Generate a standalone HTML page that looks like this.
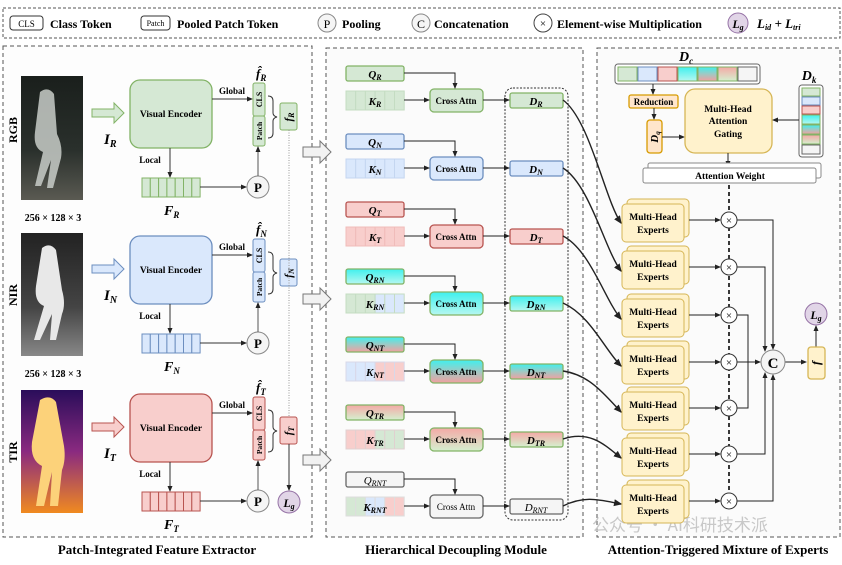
<!DOCTYPE html>
<html><head><meta charset="utf-8"><style>
body{margin:0;background:#fff}
svg{display:block;font-family:"Liberation Serif","Noto Serif CJK SC",serif;font-weight:bold}
.m{font-style:italic}
</style></head><body>
<svg width="842" height="565" viewBox="0 0 842 565" xmlns="http://www.w3.org/2000/svg">
<defs>
<marker id="a" markerWidth="6" markerHeight="6" refX="5" refY="3" orient="auto"><path d="M0,0.5L6,3L0,5.5z" fill="#222"/></marker>
<linearGradient id="cy" x1="0" y1="0" x2="0" y2="1"><stop offset="0" stop-color="#3ff0ee"/><stop offset="1" stop-color="#b6f7f0"/></linearGradient>
<linearGradient id="nt" x1="0" y1="0" x2="0" y2="1"><stop offset="0" stop-color="#3ff0ee"/><stop offset="0.5" stop-color="#9fc9c4"/><stop offset="1" stop-color="#f2a0a0"/></linearGradient>
<linearGradient id="tr" x1="0" y1="0" x2="0" y2="1"><stop offset="0" stop-color="#f4a9a6"/><stop offset="1" stop-color="#d5f0cf"/></linearGradient>
<linearGradient id="rgb" x1="0" y1="0" x2="0" y2="1"><stop offset="0" stop-color="#1a1f1c"/><stop offset="0.6" stop-color="#2a302c"/><stop offset="1" stop-color="#5a5a52"/></linearGradient>
<linearGradient id="nir" x1="0" y1="0" x2="0" y2="1"><stop offset="0" stop-color="#222"/><stop offset="0.6" stop-color="#444"/><stop offset="1" stop-color="#888"/></linearGradient>
<linearGradient id="tir" x1="0" y1="0" x2="0" y2="1"><stop offset="0" stop-color="#2a0d5a"/><stop offset="0.5" stop-color="#8a2a80"/><stop offset="1" stop-color="#f08a20"/></linearGradient>
</defs>
<!-- legend -->
<rect x="3" y="8" width="837" height="30" fill="#fff" stroke="#555" stroke-dasharray="3,2"/>
<rect x="10" y="16" width="33" height="14" rx="3" fill="#fff" stroke="#333"/><text x="26.5" y="27" font-size="9" text-anchor="middle" font-weight="normal">CLS</text>
<text x="50" y="28" font-size="12">Class Token</text>
<rect x="141" y="16" width="29" height="14" rx="3" fill="#fff" stroke="#333"/><text x="155.5" y="26" font-size="8" text-anchor="middle" font-weight="normal">Patch</text>
<text x="177" y="28" font-size="12">Pooled Patch Token</text>
<circle cx="327" cy="23" r="9" fill="#f5f5f5" stroke="#888"/><text x="327" y="28" font-size="12" text-anchor="middle" font-weight="normal">P</text>
<text x="342" y="28" font-size="12">Pooling</text>
<circle cx="421" cy="23" r="9" fill="#f5f5f5" stroke="#888"/><text x="421" y="28" font-size="12" text-anchor="middle" font-weight="normal">C</text>
<text x="434" y="28" font-size="12">Concatenation</text>
<circle cx="543" cy="23" r="9" fill="#fff" stroke="#444"/><text x="543" y="27" font-size="11" text-anchor="middle" font-weight="normal">×</text>
<text x="557" y="28" font-size="12">Element-wise Multiplication</text>
<circle cx="738" cy="23" r="10" fill="#e1d5e7" stroke="#9673a6"/><text x="738" y="28" font-size="12" text-anchor="middle" class="m">L<tspan font-size="8" dy="2">g</tspan></text>
<text x="757" y="28" font-size="13" class="m">L<tspan font-size="8" dy="2">id</tspan><tspan dy="-2"> + L</tspan><tspan font-size="8" dy="2">tri</tspan></text>

<!-- panels -->
<rect x="3" y="46" width="309" height="491" fill="#fdfdfd" stroke="#555" stroke-dasharray="4,3"/>
<rect x="326" y="48" width="257" height="489" fill="#fbfbfb" stroke="#555" stroke-dasharray="4,3"/>
<rect x="597" y="48" width="243" height="489" fill="#fbfbfb" stroke="#555" stroke-dasharray="4,3"/>
<text x="157" y="554" font-size="13" text-anchor="middle">Patch-Integrated Feature Extractor</text>
<text x="456" y="554" font-size="13" text-anchor="middle">Hierarchical Decoupling Module</text>
<text x="718" y="554" font-size="13" text-anchor="middle">Attention-Triggered Mixture of Experts</text>
<text x="592" y="531" font-size="17" fill="#c8c8c8" font-family="Noto Sans CJK SC,sans-serif" font-weight="normal">公众号 · AI科研技术派</text>

<!-- photos -->
<rect x="21" y="76" width="62" height="124" fill="url(#rgb)"/>
<path d="M40,92 q8,-6 14,2 l3,40 q6,12 4,24 l-8,30 h-6 l4,-28 l-10,26 h-6 l8,-34 q-10,-4 -8,-20z" fill="#c8ccc8" opacity="0.85"/>
<rect x="21" y="233" width="62" height="123" fill="url(#nir)"/>
<path d="M42,248 q8,-6 14,2 l6,40 q4,14 0,24 l-6,26 h-6 l2,-26 l-12,26 h-6 l10,-34 q-10,-4 -8,-20z" fill="#e8e8e8"/>
<rect x="21" y="390" width="62" height="123" fill="url(#tir)"/>
<path d="M40,400 q10,-6 16,2 l8,44 q2,14 -2,24 l-4,36 h-8 l2,-34 l-8,34 h-8 l6,-40 q-12,-6 -10,-24z" fill="#fcd27a"/>
<text transform="translate(17,130) rotate(-90)" font-size="12" text-anchor="middle">RGB</text>
<text transform="translate(17,295) rotate(-90)" font-size="12" text-anchor="middle">NIR</text>
<text transform="translate(17,452) rotate(-90)" font-size="12" text-anchor="middle">TIR</text>
<text x="53" y="221" font-size="10" text-anchor="middle">256 × 128 × 3</text>
<text x="53" y="377" font-size="10" text-anchor="middle">256 × 128 × 3</text>

<!-- row template R -->
<g id="rowR">
<polygon points="92,109 114,109 114,103 124,113 114,123 114,117 92,117" fill="#d5e8d4" stroke="#82b366"/>
<text x="104" y="144" font-size="15" class="m">I<tspan font-size="10" dy="3">R</tspan></text>
<rect x="130" y="80" width="82" height="68" rx="10" fill="#d5e8d4" stroke="#82b366" stroke-width="1.3"/>
<text x="171" y="117" font-size="9.5" text-anchor="middle">Visual Encoder</text>
<line x1="212" y1="99" x2="252" y2="99" stroke="#333" marker-end="url(#a)"/>
<text x="232" y="94" font-size="9" text-anchor="middle">Global</text>
<rect x="253" y="83" width="12" height="33" rx="2" fill="#d5e8d4" stroke="#82b366"/>
<rect x="253" y="116" width="12" height="30" rx="2" fill="#d5e8d4" stroke="#82b366"/>
<text transform="translate(262,99.5) rotate(-90)" font-size="8" text-anchor="middle">CLS</text>
<text transform="translate(262,131) rotate(-90)" font-size="7.5" text-anchor="middle">Patch</text>
<text x="256" y="78" font-size="13" class="m">f̂<tspan font-size="9" dy="3">R</tspan></text>
<path d="M268,96 q5,0 5,5 v12 q0,3 4,4 q-4,1 -4,4 v12 q0,5 -5,5" fill="none" stroke="#333"/>
<rect x="280" y="103" width="17" height="27" rx="2" fill="#d5e8d4" stroke="#82b366"/>
<text transform="translate(292,117) rotate(-90)" font-size="11" text-anchor="middle" class="m">f<tspan font-size="8" dy="2">R</tspan></text>
<line x1="170" y1="148" x2="170" y2="177" stroke="#333" marker-end="url(#a)"/>
<text x="150" y="163" font-size="9" text-anchor="middle">Local</text>
<g fill="#d5e8d4" stroke="#82b366"><rect x="142" y="178" width="8.3" height="19"/><rect x="150.3" y="178" width="8.3" height="19"/><rect x="158.6" y="178" width="8.3" height="19"/><rect x="166.9" y="178" width="8.3" height="19"/><rect x="175.2" y="178" width="8.3" height="19"/><rect x="183.5" y="178" width="8.3" height="19"/><rect x="191.8" y="178" width="8.3" height="19"/></g>
<text x="164" y="215" font-size="14" class="m">F<tspan font-size="9" dy="3">R</tspan></text>
<line x1="200" y1="187" x2="246" y2="187" stroke="#333" marker-end="url(#a)"/>
<circle cx="258" cy="187" r="11" fill="#f5f5f5" stroke="#888"/><text x="258" y="192" font-size="13" text-anchor="middle">P</text>
<line x1="258" y1="176" x2="258" y2="147" stroke="#555" marker-end="url(#a)"/>
</g>
<!-- row N -->
<g transform="translate(0,156)">
<polygon points="92,109 114,109 114,103 124,113 114,123 114,117 92,117" fill="#dae8fc" stroke="#6c8ebf"/>
<text x="104" y="144" font-size="15" class="m">I<tspan font-size="10" dy="3">N</tspan></text>
<rect x="130" y="80" width="82" height="68" rx="10" fill="#dae8fc" stroke="#6c8ebf" stroke-width="1.3"/>
<text x="171" y="117" font-size="9.5" text-anchor="middle">Visual Encoder</text>
<line x1="212" y1="99" x2="252" y2="99" stroke="#333" marker-end="url(#a)"/>
<text x="232" y="94" font-size="9" text-anchor="middle">Global</text>
<rect x="253" y="83" width="12" height="33" rx="2" fill="#dae8fc" stroke="#6c8ebf"/>
<rect x="253" y="116" width="12" height="30" rx="2" fill="#dae8fc" stroke="#6c8ebf"/>
<text transform="translate(262,99.5) rotate(-90)" font-size="8" text-anchor="middle">CLS</text>
<text transform="translate(262,131) rotate(-90)" font-size="7.5" text-anchor="middle">Patch</text>
<text x="256" y="78" font-size="13" class="m">f̂<tspan font-size="9" dy="3">N</tspan></text>
<path d="M268,96 q5,0 5,5 v12 q0,3 4,4 q-4,1 -4,4 v12 q0,5 -5,5" fill="none" stroke="#333"/>
<rect x="280" y="103" width="17" height="27" rx="2" fill="#dae8fc" stroke="#6c8ebf"/>
<text transform="translate(292,117) rotate(-90)" font-size="11" text-anchor="middle" class="m">f<tspan font-size="8" dy="2">N</tspan></text>
<line x1="170" y1="148" x2="170" y2="177" stroke="#333" marker-end="url(#a)"/>
<text x="150" y="163" font-size="9" text-anchor="middle">Local</text>
<g fill="#dae8fc" stroke="#6c8ebf"><rect x="142" y="178" width="8.3" height="19"/><rect x="150.3" y="178" width="8.3" height="19"/><rect x="158.6" y="178" width="8.3" height="19"/><rect x="166.9" y="178" width="8.3" height="19"/><rect x="175.2" y="178" width="8.3" height="19"/><rect x="183.5" y="178" width="8.3" height="19"/><rect x="191.8" y="178" width="8.3" height="19"/></g>
<text x="164" y="215" font-size="14" class="m">F<tspan font-size="9" dy="3">N</tspan></text>
<line x1="200" y1="187" x2="246" y2="187" stroke="#333" marker-end="url(#a)"/>
<circle cx="258" cy="187" r="11" fill="#f5f5f5" stroke="#888"/><text x="258" y="192" font-size="13" text-anchor="middle">P</text>
<line x1="258" y1="176" x2="258" y2="147" stroke="#555" marker-end="url(#a)"/>
</g>
<!-- row T -->
<g transform="translate(0,314)">
<polygon points="92,109 114,109 114,103 124,113 114,123 114,117 92,117" fill="#f8cecc" stroke="#b85450"/>
<text x="104" y="144" font-size="15" class="m">I<tspan font-size="10" dy="3">T</tspan></text>
<rect x="130" y="80" width="82" height="68" rx="10" fill="#f8cecc" stroke="#b85450" stroke-width="1.3"/>
<text x="171" y="117" font-size="9.5" text-anchor="middle">Visual Encoder</text>
<line x1="212" y1="99" x2="252" y2="99" stroke="#333" marker-end="url(#a)"/>
<text x="232" y="94" font-size="9" text-anchor="middle">Global</text>
<rect x="253" y="83" width="12" height="33" rx="2" fill="#f8cecc" stroke="#b85450"/>
<rect x="253" y="116" width="12" height="30" rx="2" fill="#f8cecc" stroke="#b85450"/>
<text transform="translate(262,99.5) rotate(-90)" font-size="8" text-anchor="middle">CLS</text>
<text transform="translate(262,131) rotate(-90)" font-size="7.5" text-anchor="middle">Patch</text>
<text x="256" y="78" font-size="13" class="m">f̂<tspan font-size="9" dy="3">T</tspan></text>
<path d="M268,96 q5,0 5,5 v12 q0,3 4,4 q-4,1 -4,4 v12 q0,5 -5,5" fill="none" stroke="#333"/>
<rect x="280" y="103" width="17" height="27" rx="2" fill="#f8cecc" stroke="#b85450"/>
<text transform="translate(292,117) rotate(-90)" font-size="11" text-anchor="middle" class="m">f<tspan font-size="8" dy="2">T</tspan></text>
<line x1="170" y1="148" x2="170" y2="177" stroke="#333" marker-end="url(#a)"/>
<text x="150" y="163" font-size="9" text-anchor="middle">Local</text>
<g fill="#f8cecc" stroke="#b85450"><rect x="142" y="178" width="8.3" height="19"/><rect x="150.3" y="178" width="8.3" height="19"/><rect x="158.6" y="178" width="8.3" height="19"/><rect x="166.9" y="178" width="8.3" height="19"/><rect x="175.2" y="178" width="8.3" height="19"/><rect x="183.5" y="178" width="8.3" height="19"/><rect x="191.8" y="178" width="8.3" height="19"/></g>
<text x="164" y="215" font-size="14" class="m">F<tspan font-size="9" dy="3">T</tspan></text>
<line x1="200" y1="187" x2="246" y2="187" stroke="#333" marker-end="url(#a)"/>
<circle cx="258" cy="187" r="11" fill="#f5f5f5" stroke="#888"/><text x="258" y="192" font-size="13" text-anchor="middle">P</text>
<line x1="258" y1="176" x2="258" y2="147" stroke="#555" marker-end="url(#a)"/>
</g>
<line x1="289" y1="130" x2="289" y2="417" stroke="#999" stroke-dasharray="1,1.5"/>
<line x1="289" y1="444" x2="289" y2="490" stroke="#333" marker-end="url(#a)"/>
<circle cx="289" cy="502" r="11" fill="#e1d5e7" stroke="#9673a6"/><text x="289" y="507" font-size="12" text-anchor="middle" class="m">L<tspan font-size="8" dy="2">g</tspan></text>
<!-- gray hollow arrows -->
<g fill="#f2f2f2" stroke="#777">
<polygon points="303,147 320,147 320,141 331,152 320,163 320,157 303,157"/>
<polygon points="303,294 320,294 320,288 331,299 320,310 320,304 303,304"/>
<polygon points="303,455 320,455 320,449 331,460 320,471 320,465 303,465"/>
</g>

<!-- Panel 2 -->
<rect x="505" y="88" width="63" height="432" rx="8" fill="none" stroke="#333" stroke-dasharray="2,1.5"/>
<g font-size="11">
<!-- R c=100 -->
<rect x="346" y="66" width="58" height="15" rx="2" fill="#d5e8d4" stroke="#82b366" stroke-width="1.3"/><text x="375" y="78" text-anchor="middle" class="m">Q<tspan font-size="8" dy="2">R</tspan></text>
<g fill="#d5e8d4" stroke="#c4dcc2"><rect x="346" y="91" width="9.7" height="19"/><rect x="355.7" y="91" width="9.7" height="19"/><rect x="365.4" y="91" width="9.7" height="19"/><rect x="375.1" y="91" width="9.7" height="19"/><rect x="384.8" y="91" width="9.7" height="19"/><rect x="394.5" y="91" width="9.7" height="19"/></g>
<text x="375" y="105" text-anchor="middle" class="m">K<tspan font-size="8" dy="2">R</tspan></text>
<rect x="430" y="89" width="53" height="23" rx="4" fill="#d5e8d4" stroke="#82b366" stroke-width="1.3"/><text x="456" y="104" font-size="9" text-anchor="middle">Cross Attn</text>
<rect x="510" y="93" width="53" height="15" rx="2" fill="#d5e8d4" stroke="#82b366" stroke-width="1.3"/><text x="536" y="105" text-anchor="middle" class="m">D<tspan font-size="8" dy="2">R</tspan></text>
<!-- N c=168 -->
<rect x="346" y="134" width="58" height="15" rx="2" fill="#dae8fc" stroke="#6c8ebf" stroke-width="1.3"/><text x="375" y="146" text-anchor="middle" class="m">Q<tspan font-size="8" dy="2">N</tspan></text>
<g fill="#dae8fc" stroke="#c4d6f0"><rect x="346" y="159" width="9.7" height="19"/><rect x="355.7" y="159" width="9.7" height="19"/><rect x="365.4" y="159" width="9.7" height="19"/><rect x="375.1" y="159" width="9.7" height="19"/><rect x="384.8" y="159" width="9.7" height="19"/><rect x="394.5" y="159" width="9.7" height="19"/></g>
<text x="375" y="173" text-anchor="middle" class="m">K<tspan font-size="8" dy="2">N</tspan></text>
<rect x="430" y="157" width="53" height="23" rx="4" fill="#dae8fc" stroke="#6c8ebf" stroke-width="1.3"/><text x="456" y="172" font-size="9" text-anchor="middle">Cross Attn</text>
<rect x="510" y="161" width="53" height="15" rx="2" fill="#dae8fc" stroke="#6c8ebf" stroke-width="1.3"/><text x="536" y="173" text-anchor="middle" class="m">D<tspan font-size="8" dy="2">N</tspan></text>
<!-- T c=236 -->
<rect x="346" y="202" width="58" height="15" rx="2" fill="#f8cecc" stroke="#b85450" stroke-width="1.3"/><text x="375" y="214" text-anchor="middle" class="m">Q<tspan font-size="8" dy="2">T</tspan></text>
<g fill="#f8cecc" stroke="#f0bcba"><rect x="346" y="227" width="9.7" height="19"/><rect x="355.7" y="227" width="9.7" height="19"/><rect x="365.4" y="227" width="9.7" height="19"/><rect x="375.1" y="227" width="9.7" height="19"/><rect x="384.8" y="227" width="9.7" height="19"/><rect x="394.5" y="227" width="9.7" height="19"/></g>
<text x="375" y="241" text-anchor="middle" class="m">K<tspan font-size="8" dy="2">T</tspan></text>
<rect x="430" y="225" width="53" height="23" rx="4" fill="#f8cecc" stroke="#b85450" stroke-width="1.3"/><text x="456" y="240" font-size="9" text-anchor="middle">Cross Attn</text>
<rect x="510" y="229" width="53" height="15" rx="2" fill="#f8cecc" stroke="#b85450" stroke-width="1.3"/><text x="536" y="241" text-anchor="middle" class="m">D<tspan font-size="8" dy="2">T</tspan></text>
<!-- RN c=303 -->
<rect x="346" y="269" width="58" height="15" rx="2" fill="url(#cy)" stroke="#82b366" stroke-width="1.3"/><text x="375" y="281" text-anchor="middle" class="m">Q<tspan font-size="8" dy="2">RN</tspan></text>
<g stroke="#c4dcc2"><rect x="346" y="294" width="9.7" height="19" fill="#d5e8d4"/><rect x="355.7" y="294" width="9.7" height="19" fill="#d5e8d4"/><rect x="365.4" y="294" width="9.7" height="19" fill="#d5e8d4"/><rect x="375.1" y="294" width="9.7" height="19" fill="#dae8fc"/><rect x="384.8" y="294" width="9.7" height="19" fill="#dae8fc"/><rect x="394.5" y="294" width="9.7" height="19" fill="#dae8fc"/></g>
<text x="375" y="308" text-anchor="middle" class="m">K<tspan font-size="8" dy="2">RN</tspan></text>
<rect x="430" y="292" width="53" height="23" rx="4" fill="url(#cy)" stroke="#82b366" stroke-width="1.3"/><text x="456" y="307" font-size="9" text-anchor="middle">Cross Attn</text>
<rect x="510" y="296" width="53" height="15" rx="2" fill="url(#cy)" stroke="#82b366" stroke-width="1.3"/><text x="536" y="308" text-anchor="middle" class="m">D<tspan font-size="8" dy="2">RN</tspan></text>
<!-- NT c=371 -->
<rect x="346" y="337" width="58" height="15" rx="2" fill="url(#nt)" stroke="#82b366" stroke-width="1.3"/><text x="375" y="349" text-anchor="middle" class="m">Q<tspan font-size="8" dy="2">NT</tspan></text>
<g stroke="#d8d8e8"><rect x="346" y="362" width="9.7" height="19" fill="#dae8fc"/><rect x="355.7" y="362" width="9.7" height="19" fill="#dae8fc"/><rect x="365.4" y="362" width="9.7" height="19" fill="#dae8fc"/><rect x="375.1" y="362" width="9.7" height="19" fill="#f8cecc"/><rect x="384.8" y="362" width="9.7" height="19" fill="#f8cecc"/><rect x="394.5" y="362" width="9.7" height="19" fill="#f8cecc"/></g>
<text x="375" y="376" text-anchor="middle" class="m">K<tspan font-size="8" dy="2">NT</tspan></text>
<rect x="430" y="360" width="53" height="23" rx="4" fill="url(#nt)" stroke="#82b366" stroke-width="1.3"/><text x="456" y="375" font-size="9" text-anchor="middle">Cross Attn</text>
<rect x="510" y="364" width="53" height="15" rx="2" fill="url(#nt)" stroke="#82b366" stroke-width="1.3"/><text x="536" y="376" text-anchor="middle" class="m">D<tspan font-size="8" dy="2">NT</tspan></text>
<!-- TR c=439 -->
<rect x="346" y="405" width="58" height="15" rx="2" fill="url(#tr)" stroke="#82b366" stroke-width="1.3"/><text x="375" y="417" text-anchor="middle" class="m">Q<tspan font-size="8" dy="2">TR</tspan></text>
<g stroke="#e0d0d0"><rect x="346" y="430" width="9.7" height="19" fill="#f8cecc"/><rect x="355.7" y="430" width="9.7" height="19" fill="#f8cecc"/><rect x="365.4" y="430" width="9.7" height="19" fill="#f8cecc"/><rect x="375.1" y="430" width="9.7" height="19" fill="#d5e8d4"/><rect x="384.8" y="430" width="9.7" height="19" fill="#d5e8d4"/><rect x="394.5" y="430" width="9.7" height="19" fill="#d5e8d4"/></g>
<text x="375" y="444" text-anchor="middle" class="m">K<tspan font-size="8" dy="2">TR</tspan></text>
<rect x="430" y="428" width="53" height="23" rx="4" fill="url(#tr)" stroke="#82b366" stroke-width="1.3"/><text x="456" y="443" font-size="9" text-anchor="middle">Cross Attn</text>
<rect x="510" y="432" width="53" height="15" rx="2" fill="url(#tr)" stroke="#82b366" stroke-width="1.3"/><text x="536" y="444" text-anchor="middle" class="m">D<tspan font-size="8" dy="2">TR</tspan></text>
<!-- RNT c=506 -->
<rect x="346" y="472" width="58" height="15" rx="2" fill="#f5f5f5" stroke="#666" stroke-width="1.3"/><text x="375" y="484" text-anchor="middle" class="m" font-weight="normal">Q<tspan font-size="8" dy="2">RNT</tspan></text>
<g stroke="#ddd"><rect x="346" y="497" width="9.7" height="19" fill="#d5e8d4"/><rect x="355.7" y="497" width="9.7" height="19" fill="#d5e8d4"/><rect x="365.4" y="497" width="9.7" height="19" fill="#dae8fc"/><rect x="375.1" y="497" width="9.7" height="19" fill="#dae8fc"/><rect x="384.8" y="497" width="9.7" height="19" fill="#f8cecc"/><rect x="394.5" y="497" width="9.7" height="19" fill="#f8cecc"/></g>
<text x="375" y="511" text-anchor="middle" class="m">K<tspan font-size="8" dy="2">RNT</tspan></text>
<rect x="430" y="495" width="53" height="23" rx="4" fill="#f5f5f5" stroke="#666" stroke-width="1.3"/><text x="456" y="510" font-size="9" text-anchor="middle" font-weight="normal">Cross Attn</text>
<rect x="510" y="499" width="53" height="15" rx="2" fill="#f5f5f5" stroke="#666" stroke-width="1.3"/><text x="536" y="511" text-anchor="middle" class="m" font-weight="normal">D<tspan font-size="8" dy="2">RNT</tspan></text>
</g>
<g stroke="#222" fill="none" marker-end="url(#a)">
<path d="M404,73 H455 V88"/><path d="M404,141 H455 V156"/><path d="M404,209 H455 V224"/><path d="M404,276 H455 V291"/><path d="M404,344 H455 V359"/><path d="M404,412 H455 V427"/><path d="M404,479 H455 V494"/>
<path d="M404,100 H429"/><path d="M404,168 H429"/><path d="M404,236 H429"/><path d="M404,303 H429"/><path d="M404,371 H429"/><path d="M404,439 H429"/><path d="M404,506 H429"/>
<path d="M483,100 H509"/><path d="M483,168 H509"/><path d="M483,236 H509"/><path d="M483,303 H509"/><path d="M483,371 H509"/><path d="M483,439 H509"/><path d="M483,506 H509"/>
<!-- D to experts -->
<path d="M563,100 C590,120 605,200 621,223" stroke-width="1.4"/>
<path d="M563,168 C590,185 605,250 621,271" stroke-width="1.4"/>
<path d="M563,236 C590,250 605,300 621,319" stroke-width="1.4"/>
<path d="M563,303 C590,315 605,350 621,366" stroke-width="1.4"/>
<path d="M563,371 C590,375 605,395 621,412" stroke-width="1.4"/>
<path d="M563,439 C590,430 605,445 621,458" stroke-width="1.4"/>
<path d="M563,506 C585,495 600,500 621,504" stroke-width="1.4"/>
</g>

<!-- Panel 3 -->
<text x="686" y="61" font-size="14" text-anchor="middle" class="m">D<tspan font-size="9" dy="3">c</tspan></text>
<rect x="615" y="64" width="145" height="20" rx="3" fill="#fff" stroke="#666"/>
<rect x="618" y="67" width="19" height="14" fill="#d5e8d4" stroke="#82b366"/>
<rect x="638" y="67" width="19" height="14" fill="#dae8fc" stroke="#6c8ebf"/>
<rect x="658" y="67" width="19" height="14" fill="#f8cecc" stroke="#b85450"/>
<rect x="678" y="67" width="19" height="14" fill="url(#cy)" stroke="#82b366"/>
<rect x="698" y="67" width="19" height="14" fill="url(#nt)" stroke="#82b366"/>
<rect x="718" y="67" width="19" height="14" fill="url(#tr)" stroke="#82b366"/>
<rect x="738" y="67" width="19" height="14" fill="#f5f5f5" stroke="#666"/>
<line x1="653" y1="84" x2="653" y2="94" stroke="#222" marker-end="url(#a)"/>
<rect x="629" y="95" width="49" height="13" rx="2" fill="#ffe6cc" stroke="#d79b00" stroke-width="1.3"/><text x="653.5" y="105" font-size="9" text-anchor="middle">Reduction</text>
<line x1="654" y1="108" x2="654" y2="119" stroke="#222" marker-end="url(#a)"/>
<rect x="647" y="120" width="15" height="33" rx="3" fill="#ffe6cc" stroke="#d79b00" stroke-width="1.3"/>
<text transform="translate(658,137) rotate(-90)" font-size="11" text-anchor="middle" class="m">D<tspan font-size="7" dy="2">q</tspan></text>
<line x1="662" y1="137" x2="684" y2="137" stroke="#222" marker-end="url(#a)"/>
<rect x="685" y="89" width="87" height="64" rx="10" fill="#fff2cc" stroke="#d6b656" stroke-width="1.3"/>
<text x="728" y="112" font-size="9.5" text-anchor="middle">Multi-Head</text>
<text x="728" y="124" font-size="9.5" text-anchor="middle">Attention</text>
<text x="728" y="137" font-size="9.5" text-anchor="middle">Gating</text>
<text x="809" y="80" font-size="14" text-anchor="middle" class="m">D<tspan font-size="9" dy="3">k</tspan></text>
<rect x="799" y="85" width="24" height="72" rx="3" fill="#fff" stroke="#666"/>
<rect x="802" y="88" width="18" height="8" fill="#d5e8d4" stroke="#82b366"/>
<rect x="802" y="97" width="18" height="8" fill="#dae8fc" stroke="#6c8ebf"/>
<rect x="802" y="106" width="18" height="8" fill="#f8cecc" stroke="#b85450"/>
<rect x="802" y="115" width="18" height="9" fill="url(#cy)" stroke="#82b366"/>
<rect x="802" y="125" width="18" height="9" fill="url(#nt)" stroke="#82b366"/>
<rect x="802" y="135" width="18" height="9" fill="url(#tr)" stroke="#82b366"/>
<rect x="802" y="145" width="18" height="9" fill="#f5f5f5" stroke="#666"/>
<line x1="799" y1="120" x2="773" y2="120" stroke="#222" marker-end="url(#a)"/>
<line x1="728" y1="153" x2="728" y2="166" stroke="#222" marker-end="url(#a)"/>
<rect x="648" y="163" width="173" height="15" rx="2" fill="#fff" stroke="#888"/>
<rect x="643" y="168" width="173" height="15" rx="2" fill="#fff" stroke="#888"/>
<text x="730" y="179" font-size="9.5" text-anchor="middle">Attention Weight</text>
<line x1="729" y1="185" x2="729" y2="490" stroke="#222" stroke-width="1.8" stroke-dasharray="4,3"/>

<!-- experts -->
<g font-size="9.5" text-anchor="middle">
<g transform="translate(0,0)"><rect x="627" y="199" width="62" height="38" rx="4" fill="#fff2cc" stroke="#d6b656"/><rect x="622" y="204" width="62" height="38" rx="4" fill="#fff2cc" stroke="#d6b656"/><text x="653" y="220">Multi-Head</text><text x="653" y="233">Experts</text></g>
<g transform="translate(0,47)"><rect x="627" y="199" width="62" height="38" rx="4" fill="#fff2cc" stroke="#d6b656"/><rect x="622" y="204" width="62" height="38" rx="4" fill="#fff2cc" stroke="#d6b656"/><text x="653" y="220">Multi-Head</text><text x="653" y="233">Experts</text></g>
<g transform="translate(0,95)"><rect x="627" y="199" width="62" height="38" rx="4" fill="#fff2cc" stroke="#d6b656"/><rect x="622" y="204" width="62" height="38" rx="4" fill="#fff2cc" stroke="#d6b656"/><text x="653" y="220">Multi-Head</text><text x="653" y="233">Experts</text></g>
<g transform="translate(0,142)"><rect x="627" y="199" width="62" height="38" rx="4" fill="#fff2cc" stroke="#d6b656"/><rect x="622" y="204" width="62" height="38" rx="4" fill="#fff2cc" stroke="#d6b656"/><text x="653" y="220">Multi-Head</text><text x="653" y="233">Experts</text></g>
<g transform="translate(0,188)"><rect x="627" y="199" width="62" height="38" rx="4" fill="#fff2cc" stroke="#d6b656"/><rect x="622" y="204" width="62" height="38" rx="4" fill="#fff2cc" stroke="#d6b656"/><text x="653" y="220">Multi-Head</text><text x="653" y="233">Experts</text></g>
<g transform="translate(0,234)"><rect x="627" y="199" width="62" height="38" rx="4" fill="#fff2cc" stroke="#d6b656"/><rect x="622" y="204" width="62" height="38" rx="4" fill="#fff2cc" stroke="#d6b656"/><text x="653" y="220">Multi-Head</text><text x="653" y="233">Experts</text></g>
<g transform="translate(0,281)"><rect x="627" y="199" width="62" height="38" rx="4" fill="#fff2cc" stroke="#d6b656"/><rect x="622" y="204" width="62" height="38" rx="4" fill="#fff2cc" stroke="#d6b656"/><text x="653" y="220">Multi-Head</text><text x="653" y="233">Experts</text></g>
</g>
<g stroke="#222" fill="none">
<g marker-end="url(#a)"><path d="M689,220 H720"/><path d="M689,267 H720"/><path d="M689,315 H720"/><path d="M689,362 H720"/><path d="M689,408 H720"/><path d="M689,454 H720"/><path d="M689,501 H720"/></g>
<path d="M737,220 H773 V349" marker-end="url(#a)"/>
<path d="M737,267 H765 V351" marker-end="url(#a)"/>
<path d="M737,315 H748 V408 H737"/>
<path d="M748,362 H760" marker-end="url(#a)"/>
<path d="M737,362 H748"/>
<path d="M737,454 H765 V373" marker-end="url(#a)"/>
<path d="M737,501 H773 V375" marker-end="url(#a)"/>
<path d="M785,362 H806" marker-end="url(#a)"/>
<path d="M816,347 V326" marker-end="url(#a)"/>
</g>
<g fill="#fff" stroke="#333">
<circle cx="729" cy="220" r="8"/><circle cx="729" cy="267" r="8"/><circle cx="729" cy="315" r="8"/><circle cx="729" cy="362" r="8"/><circle cx="729" cy="408" r="8"/><circle cx="729" cy="454" r="8"/><circle cx="729" cy="501" r="8"/>
</g>
<g font-size="11" text-anchor="middle" font-weight="normal">
<text x="729" y="224">×</text><text x="729" y="271">×</text><text x="729" y="319">×</text><text x="729" y="366">×</text><text x="729" y="412">×</text><text x="729" y="458">×</text><text x="729" y="505">×</text>
</g>
<circle cx="773" cy="362" r="12" fill="#f5f5f5" stroke="#888"/><text x="773" y="368" font-size="15" text-anchor="middle">C</text>
<rect x="808" y="347" width="17" height="32" rx="3" fill="#fff2cc" stroke="#d6b656" stroke-width="1.3"/>
<text transform="translate(820,363) rotate(-90)" font-size="12" text-anchor="middle" class="m">f</text>
<circle cx="816" cy="314" r="11" fill="#e1d5e7" stroke="#9673a6"/><text x="816" y="319" font-size="12" text-anchor="middle" class="m">L<tspan font-size="8" dy="2">g</tspan></text>
</svg>
</body></html>
